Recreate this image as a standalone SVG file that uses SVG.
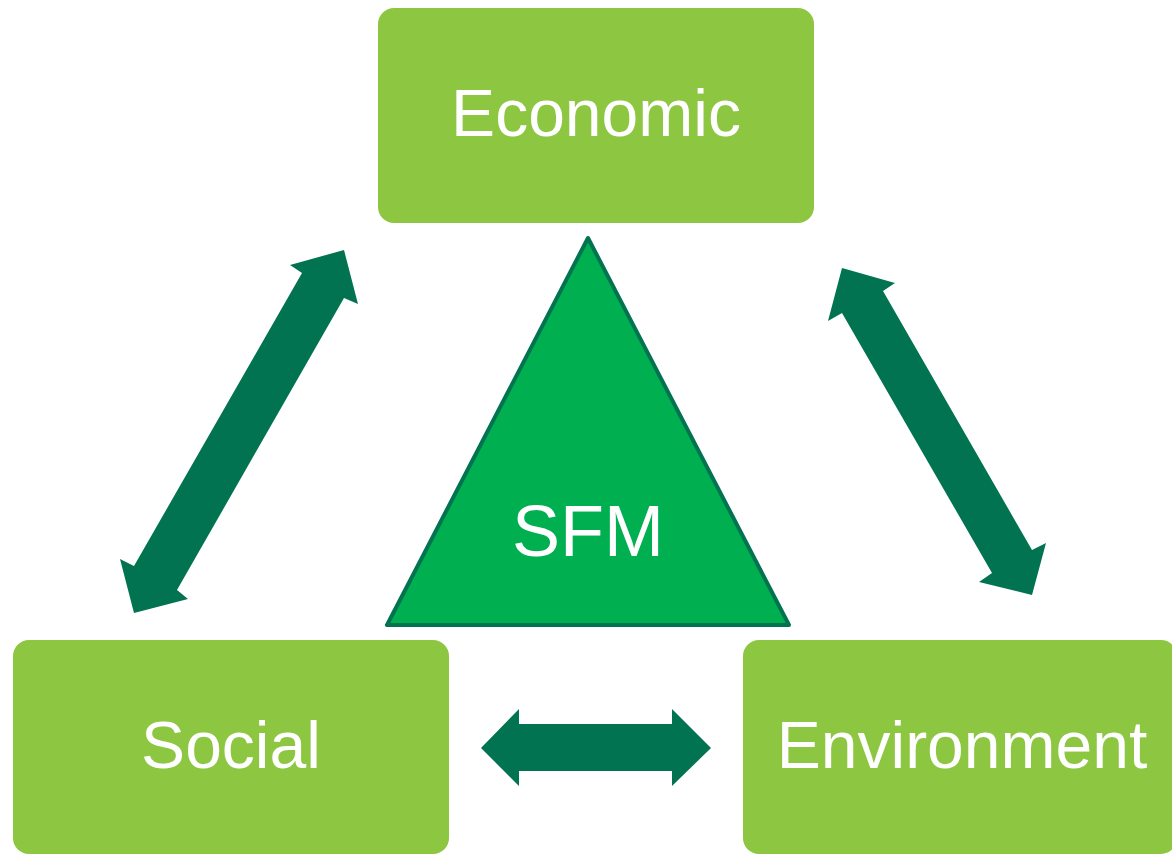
<svg xmlns="http://www.w3.org/2000/svg" width="1172" height="854" viewBox="0 0 1172 854">
<style>
.box{fill:#8DC641;}
.lbl{font-family:"Liberation Sans",Arial,sans-serif;font-size:66px;fill:#ffffff;text-anchor:middle;}
.arr{fill:#027350;}
</style>
<rect width="1172" height="854" fill="#ffffff"/>
<g id="connectors">
<polygon class="arr" points="344,250 358,304 344,298 177,590 188,599 134,613 120,559 134,566 302,273 290,265"/>
<polygon class="arr" points="842,268 895,283 883,291 1032,550 1046,543 1032,595 979,582 992,573 842,313 828,321"/>
<polygon class="arr" points="481,748 519,709 519,724 672,724 672,709 711,748 672,786 672,771 519,771 519,786"/>
</g>
<g id="economic">
<rect class="box" x="378" y="8" width="436" height="215" rx="16"/>
<text class="lbl" x="596" y="136">Economic</text>
</g>
<g id="social">
<rect class="box" x="13" y="640" width="436" height="214" rx="16"/>
<text class="lbl" x="231" y="768">Social</text>
</g>
<g id="environment">
<rect class="box" x="743" y="640" width="434" height="214" rx="16"/>
<text class="lbl" x="962" y="768">Environment</text>
</g>
<g id="sfm">
<polygon points="588,238 387,625 789,625" fill="#00AF50" stroke="#027350" stroke-width="4" stroke-linejoin="round"/>
<text x="588" y="556" font-family="'Liberation Sans',Arial,sans-serif" font-size="72" fill="#ffffff" text-anchor="middle">SFM</text>
</g>
</svg>
